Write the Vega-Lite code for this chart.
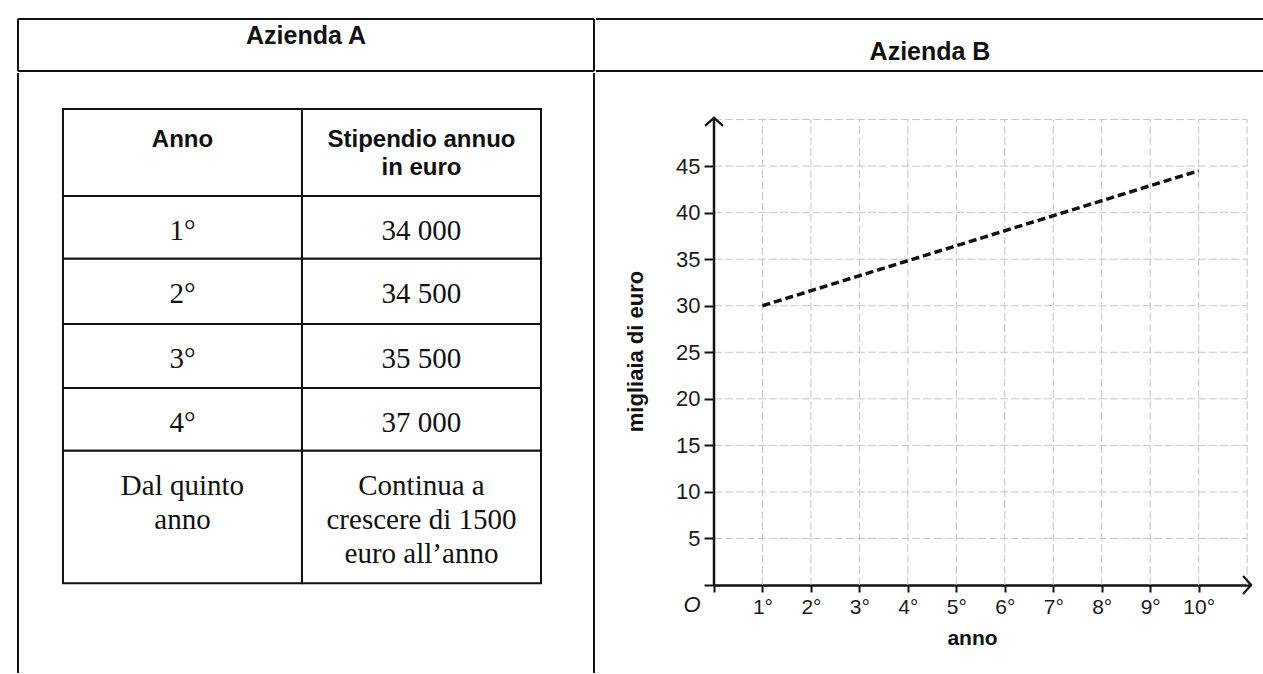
{
  "$schema": "https://vega.github.io/schema/vega-lite/v6.json",
  "background": "white",
  "padding": {"left": 17, "top": 18, "right": 0, "bottom": 0},
  "config": {"view": {"stroke": null}},
  "spacing": 0,
  "vconcat": [
    {
      "spacing": 0,
      "hconcat": [
        {
          "width": 576,
          "height": 52,
          "layer": [
            {
              "data": {"values": [{"edge": "top"}, {"edge": "bottom"}]},
              "mark": {"type": "rule", "strokeWidth": 2, "color": "#111"},
              "encoding": {"y": {"field": "edge", "type": "ordinal", "scale": {"type": "point", "domain": ["top", "bottom"], "padding": 0}, "axis": null}}
            },
            {
              "data": {"values": [{"side": "left"}, {"side": "right"}]},
              "mark": {"type": "rule", "strokeWidth": 2, "color": "#111"},
              "encoding": {"x": {"field": "side", "type": "ordinal", "scale": {"type": "point", "domain": ["left", "right"], "padding": 0}, "axis": null}}
            },
            {
              "data": {"values": [{"name": "Azienda A"}]},
              "mark": {"type": "text", "font": "Liberation Sans", "fontSize": 25, "fontWeight": "bold", "dy": -9, "color": "#111"},
              "encoding": {"text": {"field": "name", "type": "nominal"}}
            }
          ]
        },
        {
          "width": 668,
          "height": 52,
          "layer": [
            {
              "data": {"values": [{"edge": "top"}, {"edge": "bottom"}]},
              "mark": {"type": "rule", "strokeWidth": 2, "color": "#111"},
              "encoding": {"y": {"field": "edge", "type": "ordinal", "scale": {"type": "point", "domain": ["top", "bottom"], "padding": 0}, "axis": null}}
            },
            {
              "data": {"values": [{"name": "Azienda B"}]},
              "mark": {"type": "text", "font": "Liberation Sans", "fontSize": 25, "fontWeight": "bold", "dy": 7, "color": "#111"},
              "encoding": {"text": {"field": "name", "type": "nominal"}}
            }
          ]
        }
      ]
    },
    {
      "spacing": 29,
      "hconcat": [
        {
          "width": 576,
          "height": 600,
          "resolve": {"scale": {"x": "independent"}},
          "layer": [
            {
              "data": {"values": [{"side": "left"}, {"side": "right"}]},
              "mark": {"type": "rule", "strokeWidth": 2, "color": "#111"},
              "encoding": {"x": {"field": "side", "type": "ordinal", "scale": {"type": "point", "domain": ["left", "right"], "padding": 0}, "axis": null}}
            },
            {
              "data": {"name": "cells"},
              "mark": {"type": "rect", "fill": "white", "stroke": "#111", "strokeWidth": 2},
              "encoding": {
                "x": {"field": "col", "type": "nominal", "scale": {"type": "band", "domain": ["Anno", "Stipendio"], "paddingInner": 0, "paddingOuter": 0.205, "align": 0.459}, "axis": null},
                "y": {"field": "r0", "type": "quantitative", "scale": {"domain": [-0.5625, 8.8125], "reverse": true, "nice": false, "zero": false}, "axis": null},
                "y2": {"field": "r1"}
              }
            },
            {
              "data": {"name": "cells"},
              "transform": [{"filter": "datum.header == 1"}],
              "mark": {"type": "text", "font": "Liberation Sans", "fontSize": 24, "fontWeight": "bold", "baseline": "top", "align": "center", "dy": 19, "lineHeight": 28, "lineBreak": "\n", "color": "#111"},
              "encoding": {
                "x": {"field": "col", "type": "nominal", "scale": {"type": "band", "domain": ["Anno", "Stipendio"], "paddingInner": 0, "paddingOuter": 0.205, "align": 0.459}, "axis": null},
                "y": {"field": "r0", "type": "quantitative", "axis": null},
                "text": {"field": "t", "type": "nominal"}
              }
            },
            {
              "data": {"name": "cells"},
              "transform": [{"filter": "datum.header == 0"}],
              "mark": {"type": "text", "font": "Liberation Serif", "fontSize": 29, "baseline": "top", "align": "center", "dy": 21, "lineHeight": 34, "lineBreak": "\n", "color": "#111"},
              "encoding": {
                "x": {"field": "col", "type": "nominal", "scale": {"type": "band", "domain": ["Anno", "Stipendio"], "paddingInner": 0, "paddingOuter": 0.205, "align": 0.459}, "axis": null},
                "y": {"field": "r0", "type": "quantitative", "axis": null},
                "text": {"field": "t", "type": "nominal"}
              }
            }
          ]
        },
        {
          "width": 537,
          "height": 512,
          "layer": [
            {
              "data": {"values": [{"anno": 1}, {"anno": 2}, {"anno": 3}, {"anno": 4}, {"anno": 5}, {"anno": 6}, {"anno": 7}, {"anno": 8}, {"anno": 9}, {"anno": 10}, {"anno": 11}]},
              "mark": {"type": "rule", "color": "#c6c6c6", "strokeWidth": 1, "strokeDash": [8, 3]},
              "encoding": {
                "x": {
                  "field": "anno", "type": "quantitative",
                  "scale": {"domain": [0, 11.08], "nice": false, "zero": true},
                  "axis": {
                    "values": [0, 1, 2, 3, 4, 5, 6, 7, 8, 9, 10],
                    "labelExpr": "datum.value == 0 ? '' : datum.value + '°'",
                    "title": "anno", "titleFont": "Liberation Sans", "titleFontSize": 21, "titleFontWeight": "bold", "titleColor": "#111", "titlePadding": 10, "titleX": 258,
                    "labelFont": "Liberation Sans", "labelFontSize": 21, "labelColor": "#1a1a1a", "labelPadding": 4, "labelFlush": false, "labelOverlap": false,
                    "tickSize": 7, "tickWidth": 2, "tickColor": "#111",
                    "domainColor": "#111", "domainWidth": 2.5, "grid": false
                  }
                },
                "y": {
                  "datum": 0, "type": "quantitative",
                  "scale": {"domain": [0, 55], "nice": false, "zero": true},
                  "axis": {
                    "values": [0, 5, 10, 15, 20, 25, 30, 35, 40, 45],
                    "labelExpr": "datum.value == 0 ? '' : datum.label",
                    "title": "migliaia di euro", "titleFont": "Liberation Sans", "titleFontSize": 22, "titleFontWeight": "bold", "titleColor": "#111", "titlePadding": 28, "titleY": 278,
                    "labelFont": "Liberation Sans", "labelFontSize": 22, "labelColor": "#1a1a1a", "labelPadding": 4,
                    "tickSize": 10, "tickWidth": 2, "tickColor": "#111",
                    "domain": false, "grid": false
                  }
                },
                "y2": {"datum": 50}
              }
            },
            {
              "data": {"values": [{"v": 5}, {"v": 10}, {"v": 15}, {"v": 20}, {"v": 25}, {"v": 30}, {"v": 35}, {"v": 40}, {"v": 45}, {"v": 50}]},
              "mark": {"type": "rule", "color": "#c6c6c6", "strokeWidth": 1, "strokeDash": [8, 3]},
              "encoding": {
                "y": {"field": "v", "type": "quantitative"},
                "x": {"datum": 0, "type": "quantitative"},
                "x2": {"datum": 11}
              }
            },
            {
              "data": {"values": [{"anno": 1, "migliaia": 30}, {"anno": 10, "migliaia": 44.5}]},
              "mark": {"type": "line", "color": "#111", "strokeWidth": 3.5, "strokeDash": [8, 4]},
              "encoding": {
                "x": {"field": "anno", "type": "quantitative"},
                "y": {"field": "migliaia", "type": "quantitative"}
              }
            },
            {
              "data": {"values": [{"axis": "y"}]},
              "mark": {"type": "rule", "color": "#111", "strokeWidth": 2.5},
              "encoding": {
                "x": {"datum": 0, "type": "quantitative"},
                "y": {"datum": 0, "type": "quantitative"},
                "y2": {"datum": 50.2}
              }
            },
            {
              "data": {"values": [{"axis": "y"}]},
              "mark": {"type": "point", "shape": "M-1,0.45L0,-0.45L1,0.45", "filled": false, "stroke": "#111", "strokeWidth": 2.2, "size": 324, "opacity": 1},
              "encoding": {
                "x": {"datum": 0, "type": "quantitative"},
                "y": {"datum": 49.75, "type": "quantitative"}
              }
            },
            {
              "data": {"values": [{"axis": "x"}]},
              "mark": {"type": "point", "shape": "M-0.45,-1L0.45,0L-0.45,1", "filled": false, "stroke": "#111", "strokeWidth": 2.2, "size": 324, "opacity": 1},
              "encoding": {
                "x": {"datum": 11, "type": "quantitative"},
                "y": {"datum": 0, "type": "quantitative"}
              }
            },
            {
              "data": {"values": [{"label": "O"}]},
              "mark": {"type": "text", "font": "Liberation Sans", "fontSize": 22, "fontStyle": "italic", "dx": -22, "dy": 20, "color": "#111"},
              "encoding": {
                "x": {"datum": 0, "type": "quantitative"},
                "y": {"datum": 0, "type": "quantitative"},
                "text": {"field": "label", "type": "nominal"}
              }
            }
          ]
        }
      ]
    }
  ],
  "datasets": {
    "cells": [
      {"col": "Anno", "r0": 0, "r1": 1.36, "header": 1, "t": "Anno"},
      {"col": "Stipendio", "r0": 0, "r1": 1.36, "header": 1, "t": "Stipendio annuo\nin euro"},
      {"col": "Anno", "r0": 1.36, "r1": 2.34, "header": 0, "t": "1°"},
      {"col": "Stipendio", "r0": 1.36, "r1": 2.34, "header": 0, "t": "34 000"},
      {"col": "Anno", "r0": 2.34, "r1": 3.36, "header": 0, "t": "2°"},
      {"col": "Stipendio", "r0": 2.34, "r1": 3.36, "header": 0, "t": "34 500"},
      {"col": "Anno", "r0": 3.36, "r1": 4.36, "header": 0, "t": "3°"},
      {"col": "Stipendio", "r0": 3.36, "r1": 4.36, "header": 0, "t": "35 500"},
      {"col": "Anno", "r0": 4.36, "r1": 5.34, "header": 0, "t": "4°"},
      {"col": "Stipendio", "r0": 4.36, "r1": 5.34, "header": 0, "t": "37 000"},
      {"col": "Anno", "r0": 5.34, "r1": 7.41, "header": 0, "t": "Dal quinto\nanno"},
      {"col": "Stipendio", "r0": 5.34, "r1": 7.41, "header": 0, "t": "Continua a\ncrescere di 1500\neuro all’anno"}
    ]
  }
}
